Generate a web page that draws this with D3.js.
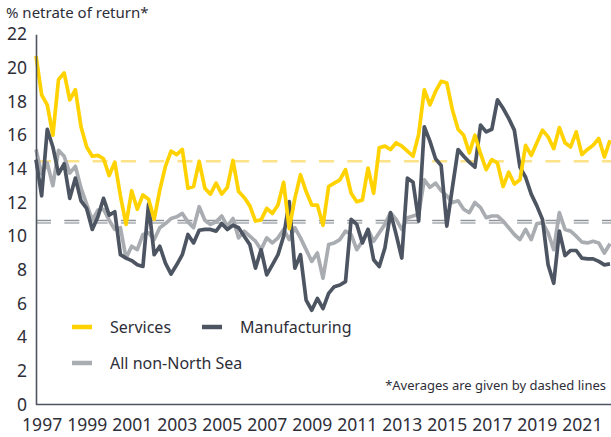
<!DOCTYPE html>
<html>
<head>
<meta charset="utf-8">
<script src="https://cdn.jsdelivr.net/npm/d3@7/dist/d3.min.js"></script>
<style>
  html, body { margin: 0; padding: 0; background: #fff; }
  svg { display: block; font-family: "Noto Sans", "Open Sans", sans-serif; }
</style>
</head>
<body>
<svg id="chart" width="611" height="437"></svg>
<script>
// ---- Data (quarterly, % net rate of return) ----
const years = [1997, 1999, 2001, 2003, 2005, 2007, 2009, 2011, 2013, 2015, 2017, 2019, 2021];
const yTicks = [0, 2, 4, 6, 8, 10, 12, 14, 16, 18, 20, 22];

const services = [
  20.7, 18.4, 17.8, 16.0, 19.3, 19.7, 18.1, 18.7, 16.5, 15.3,
  14.75, 14.8, 14.6, 13.6, 14.4, 12.4, 10.7, 12.7, 11.6, 12.45,
  12.2, 11.0, 12.75, 14.15, 15.05, 14.85, 15.15, 12.85, 12.95, 14.45,
  12.85, 12.5, 13.15, 12.5, 12.9, 14.5, 12.65, 12.3, 11.8, 10.9,
  10.97, 11.65, 11.35, 11.85, 13.2, 10.45, 12.25, 13.65, 12.65, 11.85,
  11.85, 10.65, 12.95, 13.15, 13.35, 13.95, 12.55, 12.05, 12.15, 14.05,
  12.55, 15.25, 15.35, 15.15, 15.55, 15.35, 15.05, 14.75, 16.05, 18.7,
  17.8, 18.6, 19.2, 19.1, 17.5, 16.35, 16.0, 14.95, 16.0, 14.9,
  13.95, 14.55, 14.35, 12.95, 13.8, 13.1, 13.35, 15.4, 14.8, 15.55,
  16.3, 15.9, 15.2, 16.45, 15.55, 15.3, 16.2, 14.85, 15.15, 15.4,
  15.8, 14.7, 15.7
];
const manufacturing = [
  14.55, 12.4, 16.35, 15.3, 13.7, 14.3, 12.25, 13.45, 12.1, 11.65,
  10.4, 11.15, 12.25, 11.25, 11.45, 8.9, 8.7, 8.55, 8.3, 8.2,
  11.9, 8.9, 9.4, 8.4, 7.75, 8.3, 8.9, 10.1, 9.6, 10.35,
  10.4, 10.4, 10.3, 10.75, 10.4, 10.65, 10.5, 10.0, 9.5, 8.1,
  9.2, 7.7, 8.3, 8.9, 10.0, 12.05, 8.1, 8.9, 6.2, 5.6,
  6.3, 5.7, 6.6, 7.0, 7.1, 7.3, 11.0, 10.7, 9.6, 10.4,
  8.6, 8.2, 9.3, 11.4, 10.1, 8.7, 13.45, 13.2, 10.9, 16.5,
  15.65, 14.6, 14.2, 10.6, 12.9, 15.15, 14.75, 14.4, 14.1, 16.6,
  16.2, 16.35, 18.1, 17.6, 17.0, 16.3, 14.1, 13.5, 12.5, 11.8,
  11.0, 8.3, 7.2, 10.3, 8.85, 9.15, 9.15, 8.7, 8.65, 8.65,
  8.5, 8.3, 8.35
];
const allNonNorthSea = [
  15.15, 13.7, 14.35, 13.0, 15.1, 14.75, 13.75, 14.15, 12.85, 11.9,
  10.95, 11.55, 11.6, 10.95, 10.4, 10.5, 8.7, 9.4, 9.2, 10.1,
  10.2, 9.8, 10.5, 10.75, 11.05, 11.15, 11.35, 10.85, 10.5, 11.75,
  10.95, 10.7, 10.85, 11.2, 10.6, 11.05, 9.9, 10.3, 10.0, 9.7,
  9.2, 9.9, 9.6, 9.9, 10.4, 9.8, 10.5, 9.9, 9.2, 8.5,
  9.0, 7.5, 9.5, 9.6, 9.8, 10.3, 10.1, 9.2, 9.7, 10.4,
  9.7, 10.2, 10.7, 11.4, 11.0, 10.4, 11.1, 11.2, 11.3, 13.35,
  12.9, 13.15, 12.7, 12.4, 12.0, 12.1, 11.6, 11.4, 12.0, 11.7,
  11.1, 11.2, 11.2, 10.9, 10.5, 10.1, 9.8, 10.4, 9.8, 10.75,
  10.8, 10.2, 9.2, 11.4, 10.4, 10.3, 10.0, 9.65, 9.6, 9.7,
  9.6, 9.0, 9.55
];
const averages = { services: 14.45, manufacturing: 10.93, all: 10.78 };

const seriesNames = ["Services", "Manufacturing", "All non-North Sea"];
const seriesColors = ["#FFD200", "#4D5562", "#A9ADB1"];
const avgColors = ["#FCE38A", "#8F949B", "#A9ADB1"];

// ---- Layout ----
const svg = d3.select("#chart");
const W = 611, H = 437;
const mLeft = 36, mRight = 610, mTop = 34.2, mBottom = 404.5;

const x = d3.scaleLinear().domain([0, services.length - 1]).range([mLeft, mRight]);
const y = d3.scaleLinear().domain([0, 22]).range([mBottom, mTop]);

const textColor = "#2E2E38";
const axisColor = "#4F5560";

// Average dashed lines (behind)
const avgVals = [averages.services, averages.manufacturing, averages.all];
svg.append("g").selectAll("line")
  .data(avgVals)
  .join("line")
  .attr("x1", mLeft).attr("x2", W)
  .attr("y1", d => y(d)).attr("y2", d => y(d))
  .attr("stroke", (d, i) => avgColors[i])
  .attr("stroke-width", (d, i) => i === 0 ? 2.4 : 1.4)
  .attr("stroke-dasharray", "15,13.3");

// Series lines
const line = d3.line().x((d, i) => x(i)).y(d => y(d));
const allSeries = [allNonNorthSea, manufacturing, services];
const allColors = [seriesColors[2], seriesColors[1], seriesColors[0]];
svg.append("g").selectAll("path")
  .data(allSeries)
  .join("path")
  .attr("d", d => line(d))
  .attr("fill", "none")
  .attr("stroke", (d, i) => allColors[i])
  .attr("stroke-width", 3.7)
  .attr("stroke-linejoin", "round");

// Y axis
const yAxis = d3.axisLeft(y).tickValues(yTicks).tickSize(0).tickPadding(9);
const gy = svg.append("g").attr("transform", `translate(${mLeft},0)`).call(yAxis);
gy.select(".domain").attr("stroke", axisColor).attr("stroke-width", 1.6);
gy.selectAll("text").attr("fill", textColor).attr("font-size", 17.5)
  .attr("font-family", "Noto Sans, sans-serif");

// X axis
const tickIdx = years.map((yr, k) => 1 + k * 8);
const xAxis = d3.axisBottom(x).tickValues(tickIdx)
  .tickFormat((d, k) => years[k]).tickSize(0).tickPadding(14);
const gx = svg.append("g").attr("transform", `translate(0,${mBottom})`).call(xAxis);
gx.select(".domain").attr("d", `M${mLeft},0H${W}`).attr("stroke", axisColor).attr("stroke-width", 1.6);
gx.selectAll("text").attr("fill", textColor).attr("font-size", 17.5)
  .attr("font-family", "Noto Sans, sans-serif");

// Y title
svg.append("text")
  .attr("x", 6).attr("y", 18)
  .attr("fill", textColor).attr("font-size", 15)
  .text("% netrate of return*");

// Legend
const legendItems = [
  { name: seriesNames[0], color: seriesColors[0], sx: 72, sy: 327 },
  { name: seriesNames[1], color: seriesColors[1], sx: 202, sy: 327 },
  { name: seriesNames[2], color: seriesColors[2], sx: 72, sy: 363 }
];
const lg = svg.append("g").selectAll("g").data(legendItems).join("g");
lg.append("line")
  .attr("x1", d => d.sx).attr("x2", d => d.sx + 20)
  .attr("y1", d => d.sy).attr("y2", d => d.sy)
  .attr("stroke", d => d.color).attr("stroke-width", 4.5);
lg.append("text")
  .attr("x", d => d.sx + 38).attr("y", d => d.sy + 6)
  .attr("fill", textColor).attr("font-size", 16)
  .text(d => d.name);

// Footnote
svg.append("text")
  .attr("x", 606).attr("y", 390)
  .attr("text-anchor", "end")
  .attr("fill", textColor).attr("font-size", 13)
  .text("*Averages are given by dashed lines");
</script>
</body>
</html>
